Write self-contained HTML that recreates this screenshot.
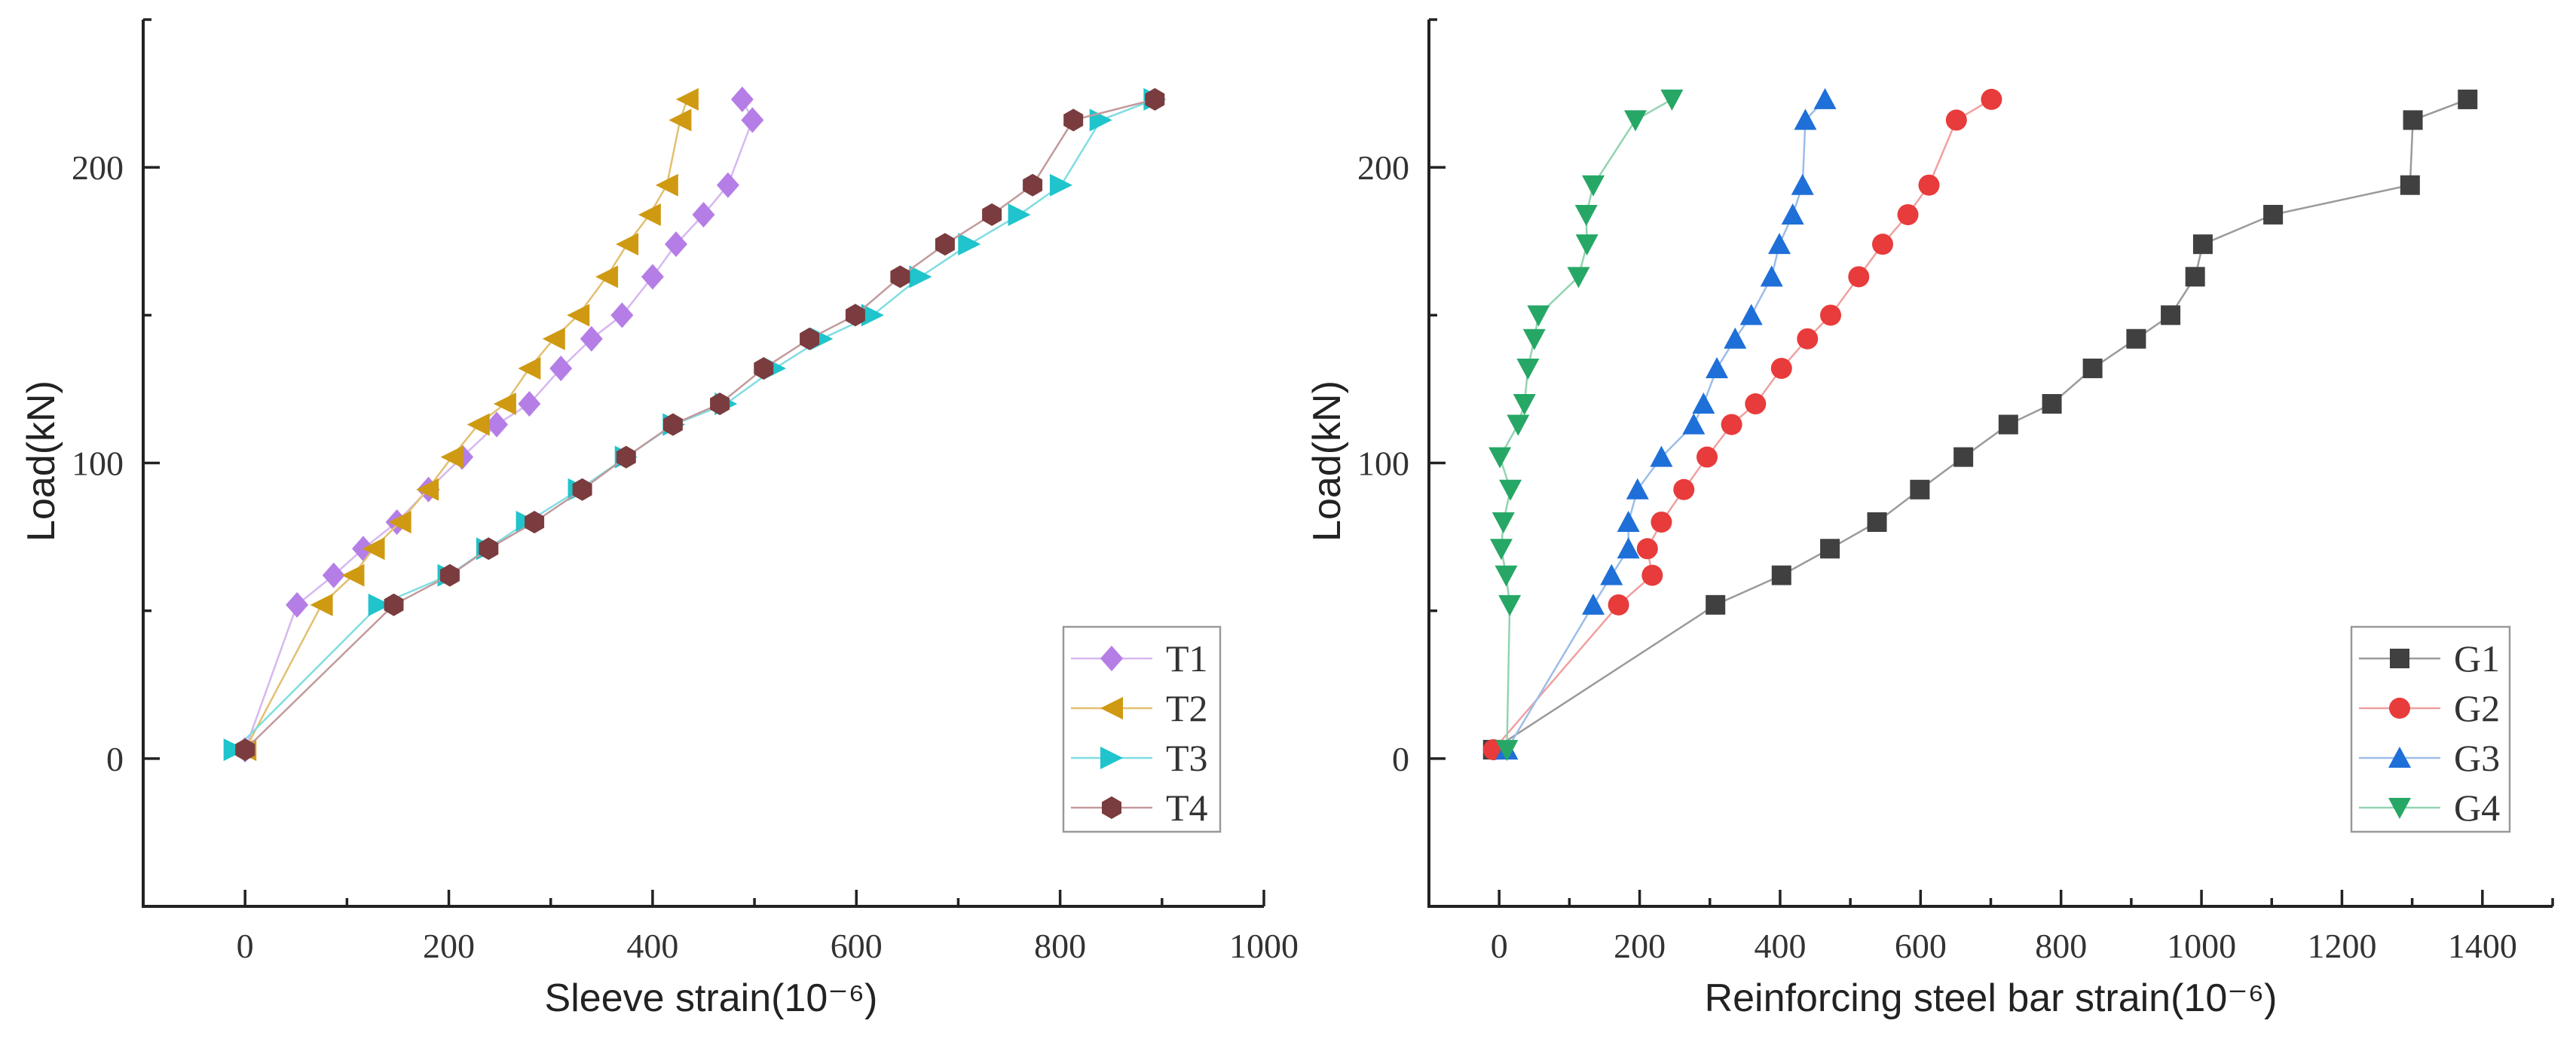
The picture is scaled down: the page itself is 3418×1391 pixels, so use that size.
<!DOCTYPE html>
<html><head><meta charset="utf-8"><style>
html,body{margin:0;padding:0;background:#fff;}
svg{display:block;}
</style></head><body>
<svg id="fig" width="3418" height="1391" viewBox="0 0 3418 1391" xmlns="http://www.w3.org/2000/svg"></svg>
<script>
// ---- shared data ----
const loads = [3,52,62,71,80,91,102,113,120,132,142,150,163,174,184,194,216,223];
// left chart: sleeve strain
const t1 = [0,51,87,116,149,180,213,247,279,310,340,370,400,423,450,474,498,488];
const t2 = [0,75,106,126,152,179,203,229,255,279,303,327,355,375,397,414,427,434];
const t3 = [-10,132,200,238,277,328,374,421,472,520,566,616,663,711,760,801,840,893];
const t4 = [0,146,201,239,284,331,374,420,466,509,554,599,643,687,733,773,813,893];
// right chart: rebar strain
const g1 = [-9,308,402,471,538,599,661,725,787,845,907,956,991,1002,1102,1297,1301,1379];
const g2 = [-8,170,218,211,231,263,296,331,365,402,439,472,512,546,582,612,651,701];
const g3 = [11,134,160,184,184,197,231,277,291,310,336,359,388,399,418,432,436,464];
const g4 = [11,15,10,3,6,16,1,27,36,41,50,56,113,125,124,134,194,246];
const xTicksL = [0,200,400,600,800,1000];
const xTicksR = [0,200,400,600,800,1000,1200,1400];
const yTicks = [0,100,200];

const NS = "http://www.w3.org/2000/svg";
const svg = document.getElementById('fig');
function mk(tag, attrs, parent){
  const e = document.createElementNS(NS, tag);
  for (const k in attrs) e.setAttribute(k, attrs[k]);
  (parent||svg).appendChild(e);
  return e;
}
function marker(g, shape, cx, cy, color){
  const r = 15;
  let e;
  if (shape==='diamond') e = mk('polygon',{points:`${cx},${cy-r-2} ${cx+r},${cy} ${cx},${cy+r+2} ${cx-r},${cy}`,fill:color},g);
  else if (shape==='left') e = mk('polygon',{points:`${cx-r},${cy} ${cx+r},${cy-r} ${cx+r},${cy+r}`,fill:color},g);
  else if (shape==='right') e = mk('polygon',{points:`${cx+r},${cy} ${cx-r},${cy-r} ${cx-r},${cy+r}`,fill:color},g);
  else if (shape==='hex'){
    let p=[];for(let i=0;i<6;i++){const a=Math.PI/3*i+Math.PI/6;p.push((cx+r*Math.cos(a)).toFixed(1)+','+(cy+r*Math.sin(a)).toFixed(1));}
    e = mk('polygon',{points:p.join(' '),fill:color},g);
  }
  else if (shape==='square') e = mk('rect',{x:cx-13,y:cy-13,width:26,height:26,fill:color},g);
  else if (shape==='circle') e = mk('circle',{cx:cx,cy:cy,r:14,fill:color},g);
  else if (shape==='up') e = mk('polygon',{points:`${cx},${cy-r} ${cx+r},${cy+r-2} ${cx-r},${cy+r-2}`,fill:color},g);
  else if (shape==='down') e = mk('polygon',{points:`${cx},${cy+r} ${cx+r},${cy-r+2} ${cx-r},${cy-r+2}`,fill:color},g);
  return e;
}

function chart(cfg){
  const {axL, axR, xmin, xmax, series, xticks, title, ylabX, legend, name} = cfg;
  const yTop = 26, yBot = 1203;
  const sx = v => axL + (v - xmin) * (axR - axL) / (xmax - xmin);
  const sy = v => yBot - (v + 50) * (yBot - yTop) / 300;
  const g = mk('g',{});
  
  
  const ax = mk('path',{d:`M${axL},${yTop} L${axL},${yBot} L${axR},${yBot}`,fill:'none',stroke:'#222','stroke-width':4},g);
  
  
  for (let v = xmin; v <= xmax; v += 100){
    const major = xticks.includes(v);
    if (v===xmin) continue;
    mk('line',{x1:sx(v),x2:sx(v),y1:yBot,y2:yBot-(major?22:11),stroke:'#222','stroke-width':3.5},g);
  }
  xticks.forEach(v=>{
    const t = mk('text',{x:sx(v),y:yBot+68,'text-anchor':'middle','font-family':'Liberation Serif, serif','font-size':46,fill:'#333'},g);
    t.textContent = v;
    
    
  });
  [0,50,100,150,200,250].forEach(v=>{
    const major = yTicks.includes(v);
    mk('line',{x1:axL,x2:axL+(major?22:11),y1:sy(v),y2:sy(v),stroke:'#222','stroke-width':3.5},g);
  });
  yTicks.forEach(v=>{
    const t = mk('text',{x:axL-26,y:sy(v)+16,'text-anchor':'end','font-family':'Liberation Serif, serif','font-size':46,fill:'#333'},g);
    t.textContent = v;
    
    
  });
  const xt = mk('text',{x:(axL+axR)/2+ (name==='left-chart'?10:0),y:1342,'text-anchor':'middle','font-family':'Liberation Sans, DejaVu Sans, sans-serif','font-size':52,fill:'#222'},g);
  xt.textContent = title;
  
  
  const yt = mk('text',{x:0,y:0,transform:`translate(${ylabX},612) rotate(-90)`,'text-anchor':'middle','font-family':'Liberation Sans, DejaVu Sans, sans-serif','font-size':52,fill:'#222'},g);
  yt.textContent = 'Load(kN)';
  
  
  series.forEach(s=>{
    const sg = mk('g',{},g);
    
    
    const pts = s.data.map((v,i)=>sx(v).toFixed(1)+','+sy(loads[i]).toFixed(1)).join(' ');
    const pl = mk('polyline',{points:pts,fill:'none',stroke:s.line,'stroke-width':2.5},sg);
    
    
    s.data.forEach((v,i)=>{
      const m = marker(sg, s.shape, sx(v), sy(loads[i]), s.color);
      
      
    });
  });
  const lg = mk('g',{},g);
  
  
  mk('rect',{x:legend.x,y:832,width:legend.w,height:272,fill:'#fff',stroke:'#999','stroke-width':2.5},lg);
  series.forEach((s,i)=>{
    const cy = 874 + i*66;
    const e = mk('g',{},lg);
    
    
    mk('line',{x1:legend.x+10,x2:legend.x+118,y1:cy,y2:cy,stroke:s.line,'stroke-width':2.5},e);
    marker(e, s.shape, legend.x+64, cy, s.color);
    const t = mk('text',{x:legend.x+136,y:cy+17,'font-family':'Liberation Serif, serif','font-size':50,fill:'#333'},e);
    t.textContent = s.label;
  });
}

chart({name:'left-chart', axL:190, axR:1677, xmin:-100, xmax:1000, xticks:xTicksL,
  title:'Sleeve strain(10\u207B\u2076)', ylabX:72, legend:{x:1411,w:208},
  series:[
    {label:'T1', data:t1, shape:'diamond', color:'#b57ee6', line:'#d6b8ef'},
    {label:'T2', data:t2, shape:'left', color:'#cf9a12', line:'#e2c070'},
    {label:'T3', data:t3, shape:'right', color:'#1fc4cc', line:'#7fdde2'},
    {label:'T4', data:t4, shape:'hex', color:'#7a3c3f', line:'#c29a9c'}
  ]});
chart({name:'right-chart', axL:1896, axR:3387, xmin:-100, xmax:1500, xticks:xTicksR,
  title:'Reinforcing steel bar strain(10\u207B\u2076)', ylabX:1778, legend:{x:3120,w:210},
  series:[
    {label:'G1', data:g1, shape:'square', color:'#404040', line:'#9a9a9a'},
    {label:'G2', data:g2, shape:'circle', color:'#e83b3b', line:'#f0a0a0'},
    {label:'G3', data:g3, shape:'up', color:'#1e6fd8', line:'#9cbde8'},
    {label:'G4', data:g4, shape:'down', color:'#27a766', line:'#92d4b0'}
  ]});
</script>
</body></html>
